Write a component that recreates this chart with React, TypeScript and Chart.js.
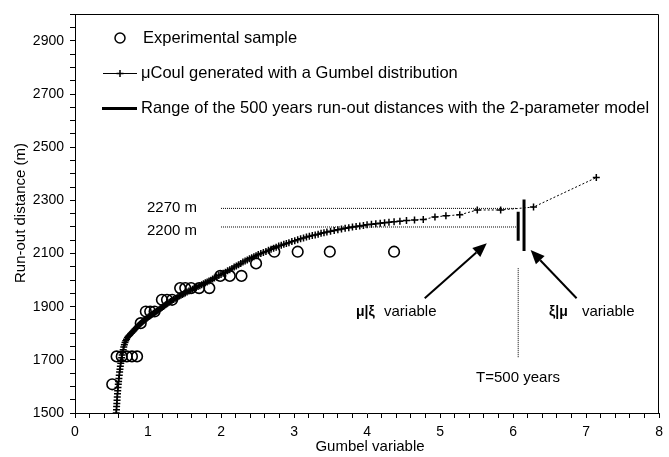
import React, { useEffect, useRef } from 'react';
import { Chart, registerables } from 'chart.js';
Chart.register(...registerables);

// Experimental sample (Gumbel variable, run-out distance m)
const sampleX = [0.51, 0.57, 0.64, 0.71, 0.78, 0.85, 0.9, 0.97, 1.03, 1.09, 1.19, 1.26, 1.33, 1.44, 1.51, 1.59, 1.7, 1.84, 1.99, 2.12, 2.28, 2.48, 2.73, 3.05, 3.49, 4.37];
const sampleY = [1608, 1713, 1713, 1713, 1713, 1713, 1838, 1882, 1882, 1882, 1926, 1926, 1926, 1970, 1970, 1970, 1970, 1970, 2016, 2016, 2016, 2063, 2107, 2107, 2107, 2107];

// μCoul generated with a Gumbel distribution
const genX = [
  0.565, 0.568, 0.570, 0.573, 0.576, 0.579, 0.582, 0.585, 0.589, 0.593, 0.597, 0.601, 0.606, 0.611, 0.616, 0.621, 0.627, 0.633, 0.639, 0.646,
  0.653, 0.660, 0.668, 0.676, 0.685, 0.695, 0.706, 0.718, 0.731, 0.745, 0.760, 0.775, 0.790, 0.805, 0.820, 0.835, 0.850, 0.865, 0.880, 0.895,
  0.910, 0.925, 0.940, 0.955, 0.970, 0.985, 1.000, 1.015, 1.030, 1.045, 1.060, 1.075, 1.090, 1.105, 1.120, 1.135, 1.150, 1.165, 1.180, 1.195,
  1.210, 1.225, 1.240, 1.255, 1.270, 1.290, 1.310, 1.330, 1.350, 1.370, 1.390, 1.410, 1.430, 1.450, 1.470, 1.490, 1.510, 1.535, 1.560, 1.585,
  1.610, 1.635, 1.660, 1.685, 1.710, 1.735, 1.760, 1.785, 1.810, 1.835, 1.860, 1.885, 1.910, 1.940, 1.970, 2.000, 2.030, 2.060, 2.090, 2.120,
  2.150, 2.180, 2.210, 2.240, 2.270, 2.300, 2.330, 2.360, 2.390, 2.420, 2.450, 2.480, 2.510, 2.545, 2.580, 2.615, 2.650, 2.685, 2.720, 2.755,
  2.790, 2.825, 2.860, 2.895, 2.930, 2.970, 3.010, 3.050, 3.090, 3.130, 3.170, 3.210, 3.250, 3.290, 3.330, 3.370, 3.410, 3.450, 3.500, 3.550,
  3.600, 3.650, 3.700, 3.750, 3.800, 3.850, 3.900, 3.950, 4.000, 4.060, 4.120, 4.180, 4.240, 4.300, 4.370, 4.450, 4.540, 4.650, 4.770, 4.930,
  5.080, 5.270, 5.510, 5.830, 6.280, 7.140,
];
const genY = [
  1500, 1512, 1524, 1536, 1548, 1560, 1572, 1584, 1596, 1608, 1619, 1630, 1642, 1654, 1665, 1676, 1687, 1698, 1708, 1718,
  1728, 1738, 1748, 1757, 1765, 1772, 1778, 1784, 1789, 1793, 1797, 1801, 1806, 1810, 1815, 1819, 1824, 1828, 1832, 1836,
  1840, 1843, 1847, 1850, 1853, 1857, 1860, 1863, 1866, 1869, 1872, 1875, 1878, 1880, 1883, 1886, 1889, 1892, 1895, 1898,
  1901, 1904, 1907, 1910, 1913, 1917, 1920, 1924, 1927, 1930, 1933, 1937, 1940, 1943, 1946, 1949, 1952, 1955, 1959, 1962,
  1966, 1969, 1972, 1976, 1979, 1983, 1986, 1990, 1993, 1997, 2000, 2004, 2008, 2012, 2017, 2021, 2026, 2030, 2035, 2039,
  2044, 2049, 2053, 2058, 2063, 2068, 2072, 2076, 2080, 2084, 2088, 2092, 2096, 2100, 2104, 2108, 2112, 2116, 2120, 2124,
  2128, 2131, 2135, 2138, 2141, 2145, 2148, 2152, 2156, 2159, 2162, 2165, 2168, 2170, 2173, 2176, 2178, 2181, 2184, 2187,
  2190, 2192, 2195, 2197, 2200, 2202, 2204, 2206, 2208, 2210, 2212, 2214, 2216, 2218, 2220, 2222, 2224, 2226, 2228, 2238,
  2242, 2246, 2264, 2264, 2275, 2386,
];

// Range of the 500-year run-out distances (two bars)
const rangeX = [6.07, 6.15];
const rangeLow = [2148, 2110];
const rangeHigh = [2257, 2303];

// Reference levels
const refLevels = [2270, 2200];
const refLabels = ['2270 m', '2200 m'];
const refXStart = 2.0;
const refXEnd = 6.05;

// Return period marker
const periodX = 6.07;
const periodYRange = [1710, 2045];

// Annotation arrows [x0, y0, x1, y1] in data units
const arrowMuXi = [4.79, 1932, 5.64, 2139];
const arrowXiMu = [6.87, 1932, 6.24, 2113];

const xTicksMin = 0, xTicksMax = 8, xStep = 0.2;
const yTicksMin = 1500, yTicksMax = 3000, yStep = 50, yLabelStep = 200;

const FONT = "'Liberation Sans', Arial, sans-serif";

const overlay = {
  id: 'overlay',
  afterDatasetsDraw(chart: any) {
    const ctx = chart.ctx;
    const { left, top, right, bottom } = chart.chartArea;
    const xs = chart.scales.x, ys = chart.scales.y;
    ctx.save();
    // frame top and right
    ctx.strokeStyle = '#000';
    ctx.lineWidth = 1;
    ctx.beginPath();
    ctx.moveTo(Math.round(left) + 0.5, Math.round(top) + 0.5);
    ctx.lineTo(Math.round(right) - 0.5, Math.round(top) + 0.5);
    ctx.lineTo(Math.round(right) - 0.5, Math.round(bottom) + 0.5);
    ctx.stroke();

    // arrows
    const drawArrow = (a: number[]) => {
      const x0 = xs.getPixelForValue(a[0]), y0 = ys.getPixelForValue(a[1]);
      const x1 = xs.getPixelForValue(a[2]), y1 = ys.getPixelForValue(a[3]);
      const ang = Math.atan2(y1 - y0, x1 - x0);
      const L = 14, W = 6;
      const bx = x1 - L * Math.cos(ang), by = y1 - L * Math.sin(ang);
      ctx.lineWidth = 2;
      ctx.beginPath();
      ctx.moveTo(x0, y0);
      ctx.lineTo(bx, by);
      ctx.stroke();
      ctx.fillStyle = '#000';
      ctx.beginPath();
      ctx.moveTo(x1, y1);
      ctx.lineTo(bx + W * Math.sin(ang), by - W * Math.cos(ang));
      ctx.lineTo(bx - W * Math.sin(ang), by + W * Math.cos(ang));
      ctx.closePath();
      ctx.fill();
    };
    drawArrow(arrowMuXi);
    drawArrow(arrowXiMu);

    ctx.fillStyle = '#000';
    ctx.textBaseline = 'middle';
    ctx.font = `15px ${FONT}`;
    ctx.textAlign = 'left';
    ctx.fillText(refLabels[0], 147, 208);
    ctx.fillText(refLabels[1], 147, 231);

    // mu|xi variable
    ctx.font = `bold 14px ${FONT}`;
    ctx.fillText('μ|ξ', 356, 312);
    ctx.font = `15px ${FONT}`;
    ctx.fillText('variable', 384, 312);
    ctx.font = `bold 14px ${FONT}`;
    ctx.fillText('ξ|μ', 549, 312);
    ctx.font = `15px ${FONT}`;
    ctx.fillText('variable', 582, 312);
    ctx.textAlign = 'center';
    ctx.fillText('T=500 years', 518, 378);

    // legend
    ctx.textAlign = 'left';
    ctx.font = `16.5px ${FONT}`;
    ctx.lineWidth = 1.5;
    ctx.beginPath();
    ctx.arc(120, 38, 5, 0, Math.PI * 2);
    ctx.stroke();
    ctx.fillText('Experimental sample', 143, 38);

    ctx.lineWidth = 1;
    ctx.beginPath();
    ctx.moveTo(103, 73.5); ctx.lineTo(137, 73.5);
    ctx.stroke();
    ctx.lineWidth = 1.5;
    ctx.beginPath();
    ctx.moveTo(120, 70); ctx.lineTo(120, 77);
    ctx.moveTo(116.5, 73.5); ctx.lineTo(123.5, 73.5);
    ctx.stroke();
    ctx.fillText('μCoul generated with a Gumbel distribution', 141, 73);

    ctx.lineWidth = 3;
    ctx.beginPath();
    ctx.moveTo(102, 108.5); ctx.lineTo(137, 108.5);
    ctx.stroke();
    ctx.fillText('Range of the 500 years run-out distances with the 2-parameter model', 141, 108);

    // axis titles
    ctx.font = `15px ${FONT}`;
    ctx.textAlign = 'center';
    ctx.fillText('Gumbel variable', 370, 447);
    ctx.save();
    ctx.translate(21, 213);
    ctx.rotate(-Math.PI / 2);
    ctx.fillText('Run-out distance (m)', 0, 0);
    ctx.restore();
    ctx.restore();
  },
};

export default function App() {
  const ref = useRef<HTMLCanvasElement | null>(null);
  useEffect(() => {
    document.body.style.margin = '0';
    const canvas = ref.current!;
    const black = '#000';
    const datasets: any[] = [];
    datasets.push({
      label: 'Experimental sample',
      data: sampleX.map((x, i) => ({ x, y: sampleY[i] })),
      showLine: false,
      pointStyle: 'circle',
      pointRadius: 5.3,
      pointBorderWidth: 1.6,
      pointBorderColor: black,
      pointBackgroundColor: 'rgba(0,0,0,0)',
    });
    datasets.push({
      label: 'μCoul generated with a Gumbel distribution',
      data: genX.map((x, i) => ({ x, y: genY[i] })),
      showLine: true,
      borderColor: black,
      borderWidth: 1,
      borderDash: [2, 2],
      pointStyle: 'cross',
      pointRadius: 3.5,
      pointBorderWidth: 1.5,
      pointBorderColor: black,
    });
    rangeX.forEach((x, i) => {
      datasets.push({
        label: 'range' + i,
        data: [{ x, y: rangeLow[i] }, { x, y: rangeHigh[i] }],
        showLine: true,
        borderColor: black,
        borderWidth: 3,
        pointRadius: 0,
      });
    });
    refLevels.forEach((lv, i) => {
      datasets.push({
        label: 'ref' + i,
        data: [{ x: refXStart, y: lv }, { x: refXEnd, y: lv }],
        showLine: true,
        borderColor: black,
        borderWidth: 1,
        borderDash: [1, 1],
        pointRadius: 0,
      });
    });
    datasets.push({
      label: 'period',
      data: [{ x: periodX, y: periodYRange[0] }, { x: periodX, y: periodYRange[1] }],
      showLine: true,
      borderColor: black,
      borderWidth: 1,
      borderDash: [1, 1],
      pointRadius: 0,
    });

    const chart = new Chart(canvas, {
      type: 'scatter',
      data: { datasets },
      options: {
        responsive: false,
        animation: false,
        devicePixelRatio: 1,
        layout: { padding: { top: 14, right: 4, left: 0, bottom: 0 } },
        plugins: { legend: { display: false }, tooltip: { enabled: false } },
        scales: {
          x: {
            type: 'linear',
            min: xTicksMin,
            max: xTicksMax,
            afterFit: (s: any) => { s.height = 44; },
            ticks: {
              stepSize: xStep,
              autoSkip: false,
              maxRotation: 0,
              padding: 6,
              color: black,
              font: { size: 14, family: FONT },
              callback: (v: any) => {
                const n = Number(v);
                return Math.abs(n - Math.round(n)) < 1e-6 ? String(Math.round(n)) : '';
              },
            },
            grid: { drawOnChartArea: false, drawTicks: true, tickLength: 5, tickColor: black, color: black },
            border: { display: true, color: black, width: 1 },
          },
          y: {
            type: 'linear',
            min: yTicksMin,
            max: yTicksMax,
            afterFit: (s: any) => { s.width = 75; },
            ticks: {
              stepSize: yStep,
              autoSkip: false,
              padding: 6,
              color: black,
              font: { size: 14, family: FONT },
              callback: (v: any) => {
                const n = Math.round(Number(v));
                return (n - yTicksMin) % yLabelStep === 0 ? String(n) : '';
              },
            },
            grid: { drawOnChartArea: false, drawTicks: true, tickLength: 5, tickColor: black, color: black },
            border: { display: true, color: black, width: 1 },
          },
        },
      },
      plugins: [overlay],
    } as any);
    return () => chart.destroy();
  }, []);
  return (
    <div style={{ width: 669, height: 457, background: '#fff' }}>
      <canvas ref={ref} width={669} height={457} style={{ display: 'block' }} />
    </div>
  );
}
